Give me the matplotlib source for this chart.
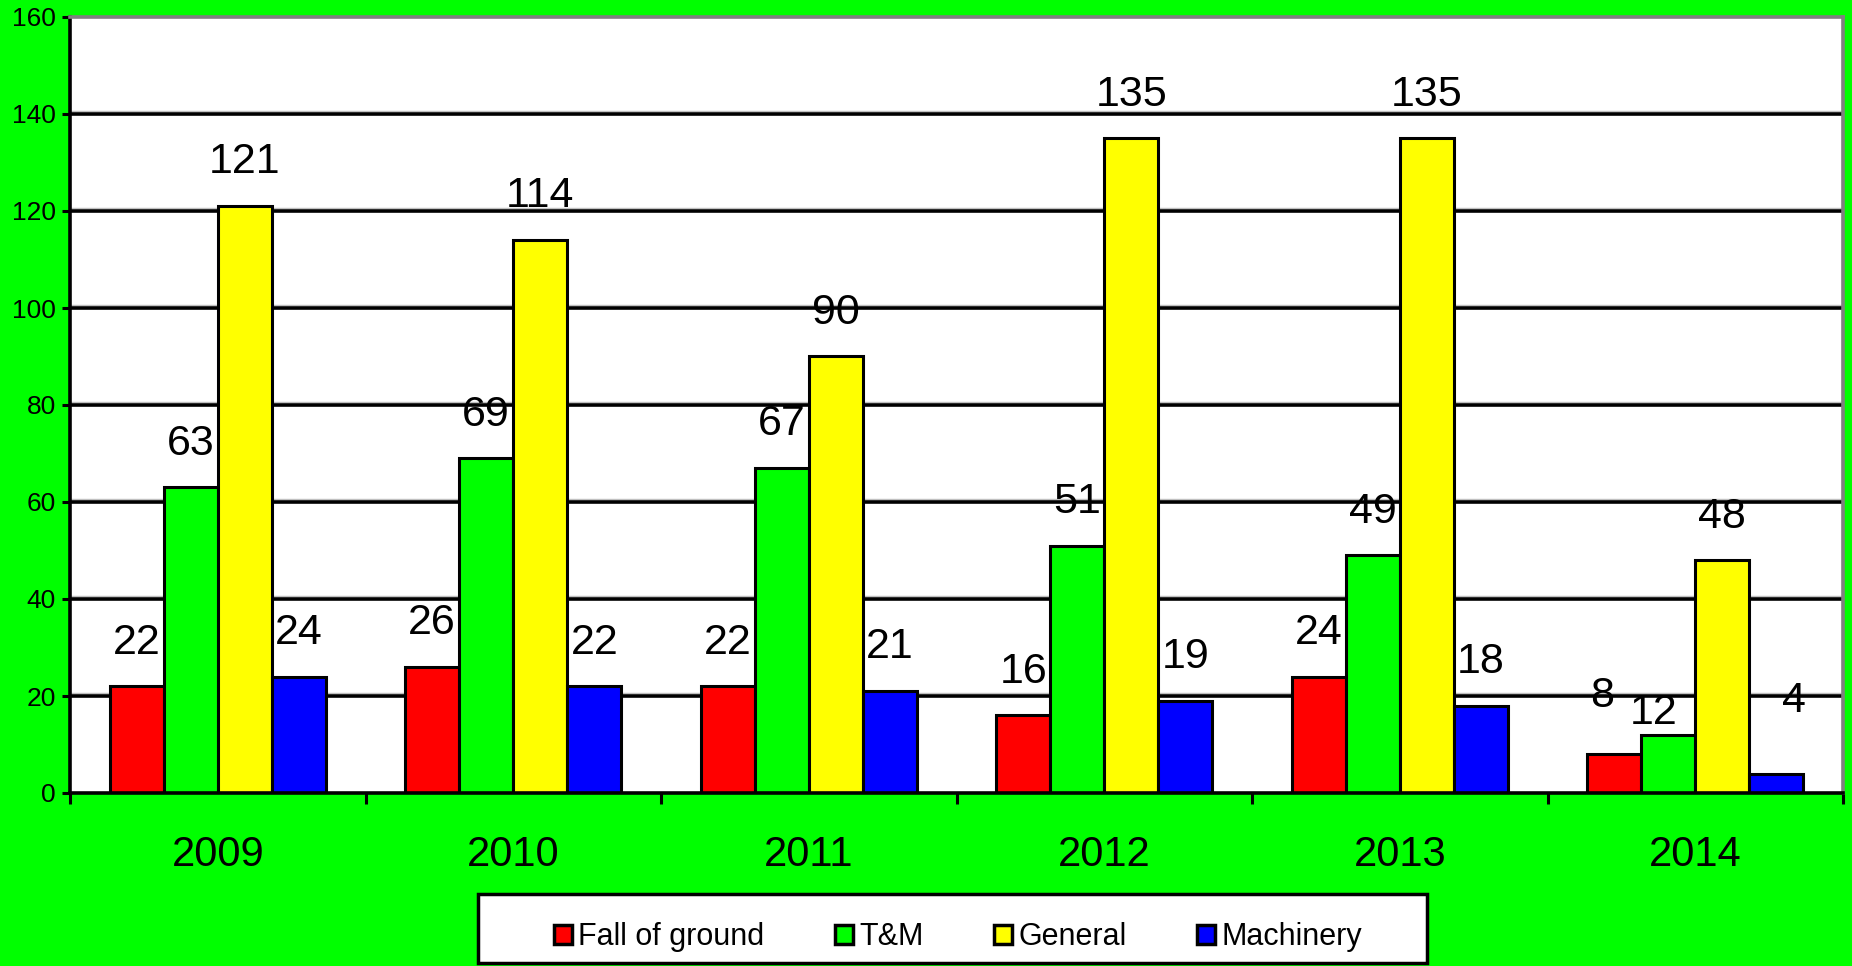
import matplotlib
matplotlib.use("Agg")
import matplotlib.pyplot as plt
import numpy as np
from matplotlib.patches import Rectangle

years = ["2009", "2010", "2011", "2012", "2013", "2014"]
series_names = ["Fall of ground", "T&M", "General", "Machinery"]
fall_of_ground = [22, 26, 22, 16, 24, 8]
t_and_m = [63, 69, 67, 51, 49, 12]
general = [121, 114, 90, 135, 135, 48]
machinery = [24, 22, 21, 19, 18, 4]
y_ticks = [0, 20, 40, 60, 80, 100, 120, 140, 160]

colors = ["#ff0000", "#00ff00", "#ffff00", "#0000ff"]
narrow = ["Liberation Sans Narrow", "Liberation Sans", "DejaVu Sans"]
normal = ["Liberation Sans", "DejaVu Sans"]

fig = plt.figure(figsize=(18.52, 9.66), dpi=100, facecolor="#00ff00")
ax = fig.add_axes([70 / 1852, 1 - 793 / 966, (1843 - 70) / 1852, (793 - 17) / 966])
ax.set_facecolor("white")

x = np.arange(len(years))
w = 0.183
data = [fall_of_ground, t_and_m, general, machinery]
handles = []
for i, (vals, c, name) in enumerate(zip(data, colors, series_names)):
    pos = x + (i - 1.5) * w
    b = ax.bar(pos, vals, width=w, color=c, edgecolor="black", linewidth=2.2,
               label=name, zorder=3)
    handles.append(b)
    for j, (p, v) in enumerate(zip(pos, vals)):
        dx = 0
        dy = 9
        if j == 5 and i == 0:
            dx, dy = -0.04, 12
        if j == 5 and i == 1:
            dx, dy = -0.05, 4.5
        if j == 5 and i == 3:
            dx, dy = 0.06, 15
        ax.text(p + dx, v + dy, str(v), ha="center", va="center", fontsize=31,
                family=narrow, zorder=4)

ax.set_xlim(-0.5, 5.5)
ax.set_ylim(0, 160)
ax.set_yticks(y_ticks)
ax.set_yticklabels([str(t) for t in y_ticks], family=normal, fontsize=19)
for t in y_ticks[1:-1]:
    ax.axhline(t + 0.6, color="#c0c0c0", linewidth=1.0, zorder=1)
    ax.axhline(t, color="black", linewidth=2.6, zorder=2)

ax.set_xticks(np.arange(-0.5, 6, 1))
ax.set_xticklabels([])
ax.tick_params(axis="x", direction="out", length=8, width=2.2, color="black")
ax.tick_params(axis="y", direction="out", length=6, width=2.2, color="black", pad=4)
for j, yr in enumerate(years):
    ax.text(j, -12.8, yr, ha="center", va="center", fontsize=30, family=narrow)

for s in ["left", "bottom"]:
    ax.spines[s].set_color("black")
    ax.spines[s].set_linewidth(2.6)
for s in ["top", "right"]:
    ax.spines[s].set_color("#808080")
    ax.spines[s].set_linewidth(2.6)
ax.spines["bottom"].set_zorder(5)

# legend frame
fig.add_artist(Rectangle((478 / 1852, 1 - 963 / 966), (1427 - 478) / 1852, (963 - 894) / 966,
                         transform=fig.transFigure, facecolor="white", edgecolor="black",
                         linewidth=2.5, zorder=1))
leg = fig.legend(handles=handles, labels=series_names, loc="center",
                 bbox_to_anchor=(958 / 1852, 1 - 937 / 966),
                 ncol=4, frameon=False,
                 prop={"family": narrow, "size": 22},
                 handlelength=0.6, handleheight=0.6, handletextpad=0.2,
                 columnspacing=2.3, borderpad=0, borderaxespad=0)
leg.set_zorder(3)
for h in leg.legend_handles:
    h.set_linewidth(2.5)

fig.savefig("out.png", dpi=100, facecolor=fig.get_facecolor())
